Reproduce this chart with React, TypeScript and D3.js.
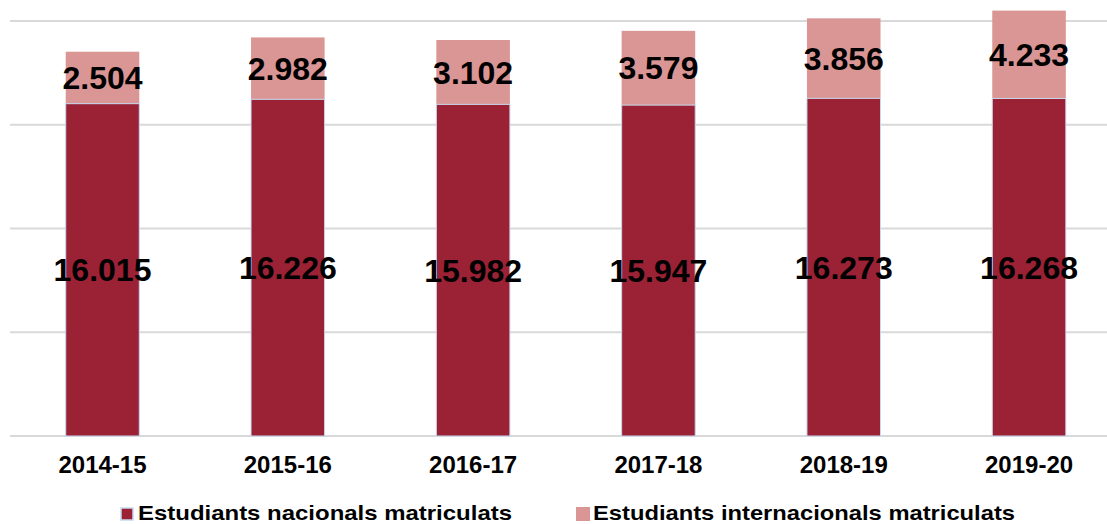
import React from "react";
import * as d3 from "d3";

const categories = ["2014-15", "2015-16", "2016-17", "2017-18", "2018-19", "2019-20"];
const nacionals = [16015, 16226, 15982, 15947, 16273, 16268];
const internacionals = [2504, 2982, 3102, 3579, 3856, 4233];
const gridTicks = [0, 5000, 10000, 15000, 20000];
const seriesNames = ["Estudiants nacionals matriculats", "Estudiants internacionals matriculats"];

const W = 1107;
const H = 524;
const COL_NAC = "#9B2135";
const COL_INT = "#DA9694";
const BORDER = "#C6D9F1";
const FONT = "'Liberation Sans', Arial, sans-serif";

const fmt = (v: number) => d3.format(",")(v).replace(/,/g, ".");

export default function App() {
  const x = d3
    .scaleBand<string>()
    .domain(categories)
    .range([9.85, 1121.7])
    .paddingInner(0.603)
    .paddingOuter(0.3015);
  const y = d3.scaleLinear().domain([0, 20000]).range([436, 21]);
  const bw = x.bandwidth();

  return (
    <svg width={W} height={H} style={{ position: "absolute", left: 0, top: 0, background: "#fff" }}>
      <g>
        {gridTicks.map((t) => (
          <line key={t} x1={10} x2={W} y1={y(t)} y2={y(t)} stroke="#D9D9D9" strokeWidth={2} />
        ))}
      </g>
      <g>
        {categories.map((c, i) => {
          const x0 = x(c)!;
          const n = nacionals[i];
          const it = internacionals[i];
          return (
            <g key={c}>
              <rect x={x0} y={y(n + it)} width={bw} height={y(n) - y(n + it)} fill={COL_INT} />
              <rect
                x={x0}
                y={y(n)}
                width={bw}
                height={y(0) - y(n)}
                fill={COL_NAC}
                stroke={BORDER}
                strokeWidth={1}
              />
            </g>
          );
        })}
      </g>
      <g fontFamily={FONT} fontWeight="bold" fill="#000" textAnchor="middle">
        {categories.map((c, i) => {
          const cx = x(c)! + bw / 2;
          const n = nacionals[i];
          const it = internacionals[i];
          return (
            <g key={c}>
              <text x={cx} y={(y(0) + y(n)) / 2} dy="0.36em" fontSize={32}>
                {fmt(n)}
              </text>
              <text x={cx} y={(y(n) + y(n + it)) / 2} dy="0.36em" fontSize={32}>
                {fmt(it)}
              </text>
              <text x={cx} y={473} fontSize={24}>
                {c}
              </text>
            </g>
          );
        })}
      </g>
      <g fontFamily={FONT} fontWeight="bold" fontSize={20.5}>
        <rect x={121} y={508} width={12} height={12} fill={COL_NAC} stroke={BORDER} strokeWidth={1.5} />
        <text x={138} y={519.5} textLength={374} lengthAdjust="spacingAndGlyphs">
          {seriesNames[0]}
        </text>
        <rect x={576} y={507} width={14} height={14} fill={COL_INT} />
        <text x={593} y={519.5} textLength={422} lengthAdjust="spacingAndGlyphs">
          {seriesNames[1]}
        </text>
      </g>
    </svg>
  );
}
